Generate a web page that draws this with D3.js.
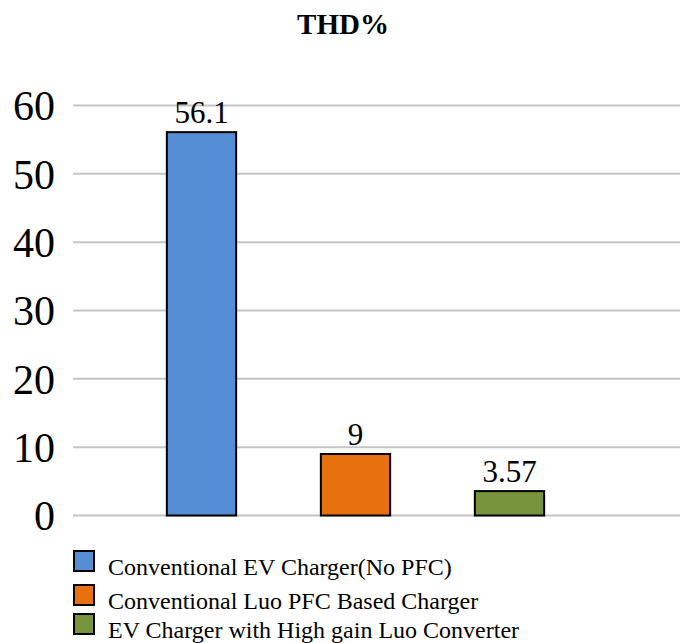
<!DOCTYPE html>
<html>
<head>
<meta charset="utf-8">
<script src="https://cdn.jsdelivr.net/npm/d3@7/dist/d3.min.js"></script>
<style>
  html, body { margin: 0; padding: 0; background: #fff; }
  svg { display: block; }
</style>
</head>
<body>
<svg id="chart" width="680" height="643"></svg>
<script>
// THD% comparison of three EV charger topologies
const categories = [
  "Conventional EV Charger(No PFC)",
  "Conventional Luo PFC Based Charger",
  "EV Charger with High gain Luo Converter"
];
const thdValues = [56.1, 9, 3.57];
const valueLabels = ["56.1", "9", "3.57"];
const yTicks = [0, 10, 20, 30, 40, 50, 60];
const colors = ["#558ED5", "#E8710F", "#77933C"];

const SERIF = "'Liberation Serif', 'Times New Roman', Times, serif";
const svg = d3.select("#chart");

const y = d3.scaleLinear().domain([0, 60]).range([515.5, 105.5]);
const x = d3.scaleBand().domain(categories).range([124.5, 586.5]).paddingInner(0.55).paddingOuter(0.275);

// title
svg.append("text")
  .attr("x", 343).attr("y", 34)
  .attr("text-anchor", "middle")
  .attr("font-family", SERIF)
  .attr("font-size", 29).attr("font-weight", "bold")
  .attr("fill", "#000")
  .text("THD%");

// gridlines
svg.append("g").selectAll("line").data(yTicks).join("line")
  .attr("x1", 73).attr("x2", 680)
  .attr("y1", d => y(d)).attr("y2", d => y(d))
  .attr("stroke", "#c4c4c4").attr("stroke-width", 2);

// y axis labels
const yAxis = d3.axisLeft(y).tickValues(yTicks).tickSize(0).tickPadding(0);
const gy = svg.append("g").attr("transform", "translate(55,0)").call(yAxis)
  .attr("font-family", SERIF).attr("font-size", 42);
gy.select(".domain").remove();
gy.selectAll("text")
  .attr("dy", "0.34em")
  .attr("fill", "#000");

// bars
svg.append("g").selectAll("rect").data(categories).join("rect")
  .attr("x", d => x(d))
  .attr("width", x.bandwidth())
  .attr("y", (d, i) => y(thdValues[i]))
  .attr("height", (d, i) => y(0) - y(thdValues[i]))
  .attr("fill", (d, i) => colors[i])
  .attr("stroke", "#000").attr("stroke-width", 2);

// value labels
svg.append("g").attr("font-family", SERIF).attr("font-size", 31)
  .selectAll("text").data(categories).join("text")
  .attr("x", d => x(d) + x.bandwidth() / 2)
  .attr("y", (d, i) => y(thdValues[i]) - 9)
  .attr("text-anchor", "middle")
  .attr("fill", "#000")
  .text((d, i) => valueLabels[i]);

// legend
const legend = svg.append("g").attr("transform", "translate(74,0)")
  .attr("font-family", SERIF).attr("font-size", 24);
const rowsY = [575, 609, 638];
const items = legend.selectAll("g").data(categories).join("g")
  .attr("transform", (d, i) => `translate(0,${rowsY[i]})`);
items.append("rect")
  .attr("x", 0).attr("y", -24).attr("width", 20).attr("height", 20)
  .attr("fill", (d, i) => colors[i])
  .attr("stroke", "#000").attr("stroke-width", 2);
items.append("text")
  .attr("x", 34).attr("y", 0)
  .attr("fill", "#000")
  .text(d => d);
</script>
</body>
</html>
